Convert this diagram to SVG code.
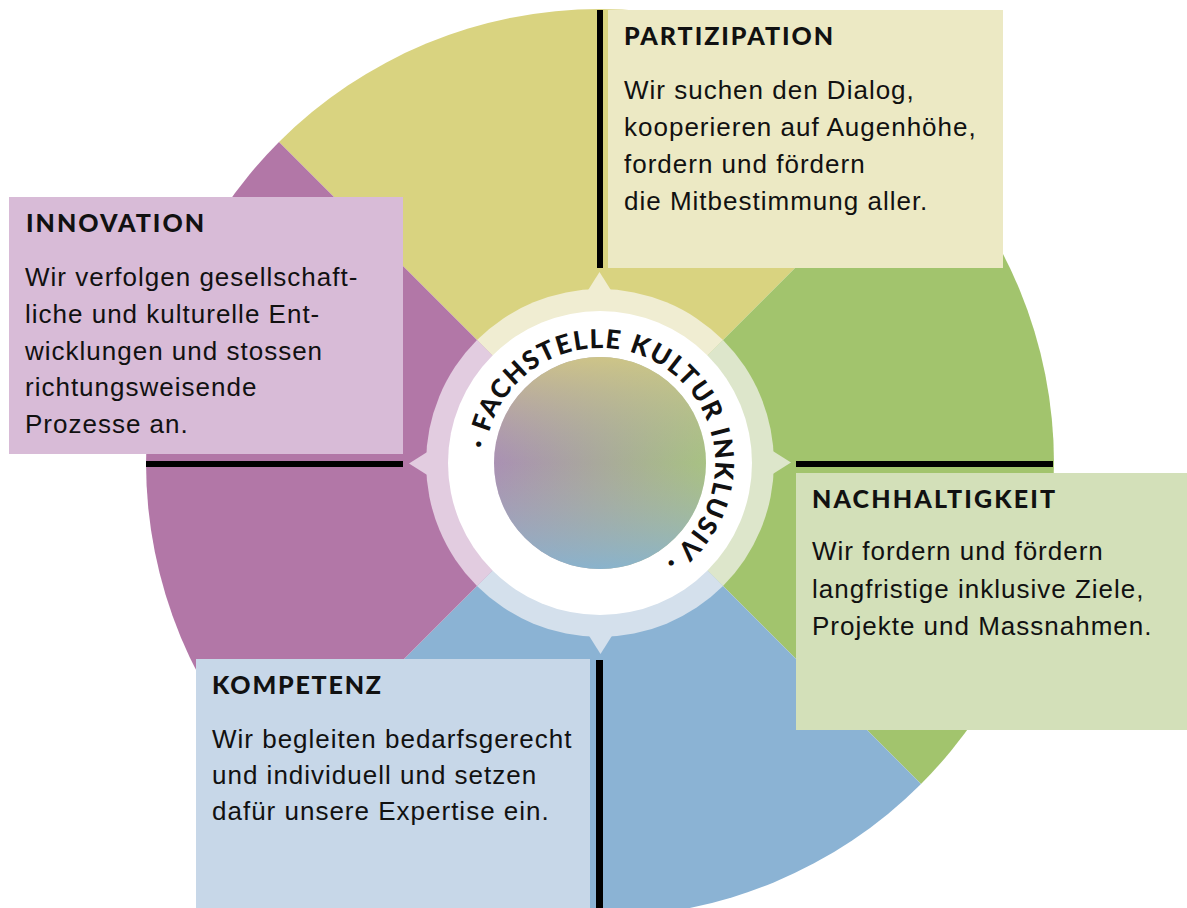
<svg xmlns="http://www.w3.org/2000/svg" width="1187" height="908" viewBox="0 0 1187 908">
<style>
.title{font-family:Lato,"Liberation Sans",sans-serif;font-weight:900;font-size:25px;fill:#111;}
.body{font-family:"Liberation Sans",Arial,sans-serif;font-size:26px;letter-spacing:1px;fill:#111;}
.ring{font-family:Lato,"Liberation Sans",sans-serif;font-weight:900;font-size:26px;fill:#111;letter-spacing:1.6px;}
.bar{fill:#000;}
</style>
<defs>
<linearGradient id="gh" x1="0" y1="0" x2="1" y2="0">
<stop offset="0" stop-color="#a889b6"/>
<stop offset="1" stop-color="#a6c67a"/>
</linearGradient>
<linearGradient id="gv" x1="0" y1="0" x2="0" y2="1">
<stop offset="0" stop-color="#d4c985" stop-opacity="0.85"/>
<stop offset="0.5" stop-color="#b0b0a8" stop-opacity="0.2"/>
<stop offset="1" stop-color="#86b4d2" stop-opacity="0.9"/>
</linearGradient>
<path id="tp" d="M485,463 A115,115 0 0 1 715,463 A115,115 0 0 1 485,463"/>
<path id="pt" d="M599.5,272 L614,295 L585,295 Z"/>
</defs>

<g id="wheel">
<path d="M600,463 L279,142 A454,454 0 0 1 921,142 Z" fill="#d9d380"/>
<path d="M600,463 L921,142 A454,454 0 0 1 921,784 Z" fill="#a2c46d"/>
<path d="M600,463 L921,784 A454,454 0 0 1 279,784 Z" fill="#8bb3d4"/>
<path d="M600,463 L279,784 A454,454 0 0 1 279,142 Z" fill="#b277a7"/>
</g>

<g id="connectors">
<rect class="bar" x="597" y="10" width="6" height="258"/>
<rect class="bar" x="146" y="461" width="257" height="6"/>
<rect class="bar" x="796" y="461" width="257" height="6"/>
<rect class="bar" x="596" y="660" width="7" height="248"/>
</g>

<g id="center">
<path d="M600,463 L477,340 A174,174 0 0 1 723,340 Z" fill="#f0edd2"/>
<path d="M600,463 L723,340 A174,174 0 0 1 723,586 Z" fill="#dde6cb"/>
<path d="M600,463 L723,586 A174,174 0 0 1 477,586 Z" fill="#d4e0ec"/>
<path d="M600,463 L477,586 A174,174 0 0 1 477,340 Z" fill="#e2cce0"/>
<use href="#pt" fill="#f0edd2"/>
<use href="#pt" fill="#dde6cb" transform="rotate(90 600 463)"/>
<use href="#pt" fill="#d4e0ec" transform="rotate(180 600 463)"/>
<use href="#pt" fill="#e2cce0" transform="rotate(270 600 463)"/>
<circle cx="600" cy="463" r="152" fill="#fff"/>
<circle cx="600" cy="463" r="106" fill="url(#gh)"/>
<circle cx="600" cy="463" r="106" fill="url(#gv)"/>
<text class="ring"><textPath href="#tp" startOffset="14">·  FACHSTELLE KULTUR INKLUSIV  ·</textPath></text>
</g>

<g id="partizipation">
<rect x="608" y="10" width="395" height="258" fill="#ece9c4"/>
<text class="title" x="624" y="45" textLength="209" lengthAdjust="spacing">PARTIZIPATION</text>
<text class="body" x="624" y="99">Wir suchen den Dialog,</text>
<text class="body" x="624" y="136">kooperieren auf Augenhöhe,</text>
<text class="body" x="624" y="173">fordern und fördern</text>
<text class="body" x="624" y="210">die Mitbestimmung aller.</text>
</g>

<g id="innovation">
<rect x="9" y="197" width="394" height="257" fill="#d8bbd7"/>
<text class="title" x="26" y="232" textLength="178" lengthAdjust="spacing">INNOVATION</text>
<text class="body" x="25" y="286">Wir verfolgen gesellschaft-</text>
<text class="body" x="25" y="323">liche und kulturelle Ent-</text>
<text class="body" x="25" y="360">wicklungen und stossen</text>
<text class="body" x="25" y="396">richtungsweisende</text>
<text class="body" x="25" y="433">Prozesse an.</text>
</g>

<g id="nachhaltigkeit">
<rect x="796" y="473" width="391" height="257" fill="#d3e0b9"/>
<text class="title" x="812" y="508" textLength="243" lengthAdjust="spacing">NACHHALTIGKEIT</text>
<text class="body" x="812" y="560">Wir fordern und fördern</text>
<text class="body" x="812" y="598">langfristige inklusive Ziele,</text>
<text class="body" x="812" y="635">Projekte und Massnahmen.</text>
</g>

<g id="kompetenz">
<rect x="196" y="659" width="394" height="249" fill="#c7d7e8"/>
<text class="title" x="212" y="694" textLength="169" lengthAdjust="spacing">KOMPETENZ</text>
<text class="body" x="212" y="748">Wir begleiten bedarfsgerecht</text>
<text class="body" x="212" y="784">und individuell und setzen</text>
<text class="body" x="212" y="820">dafür unsere Expertise ein.</text>
</g>
</svg>
